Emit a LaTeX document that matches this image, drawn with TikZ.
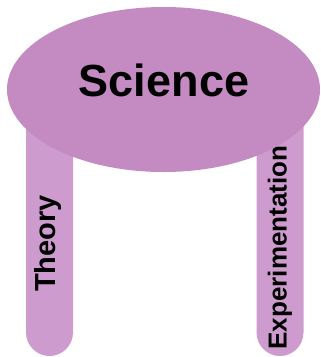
\documentclass[tikz,border=0pt]{standalone}
\usepackage{fontspec}
\setmainfont{Liberation Sans}
\usepackage{tikz}
\usetikzlibrary{positioning, shapes.geometric}

\definecolor{topcol}{HTML}{C48AC2}
\definecolor{legcol}{HTML}{CE9BCF}

\tikzset{
    seattop/.style={ellipse, fill=topcol, minimum width=313pt, minimum height=165pt, inner sep=0pt},
    leg/.style={rectangle, fill=legcol, minimum width=47pt, minimum height=256pt, rounded corners=23.5pt, inner sep=0pt},
    legtext/.style={rotate=90, font=\bfseries\fontsize{26}{30}\selectfont, inner sep=0pt}
}

\begin{document}
\begin{tikzpicture}[x=1pt, y=-1pt]
        \useasboundingbox (0,0) rectangle (321,357);

        % legs behind the top
        \node[leg] (theoryleg) at (49.5,228) {};
        \node[leg] (expleg) at (280,228) {};
        \node[legtext, font=\bfseries\fontsize{29}{33}\selectfont] (theory) at (48.5,243.5) {Theory};
        \node[legtext] (exp) at (280,247.5) {Experimentation};

        % the top
        \node[seattop] (science) at (163.5,89.5) {};
        \node[font=\bfseries\fontsize{45}{50}\selectfont, inner sep=0pt, anchor=base] (sciencetext) at (164,96) {Science};
    \end{tikzpicture}
\end{document}
